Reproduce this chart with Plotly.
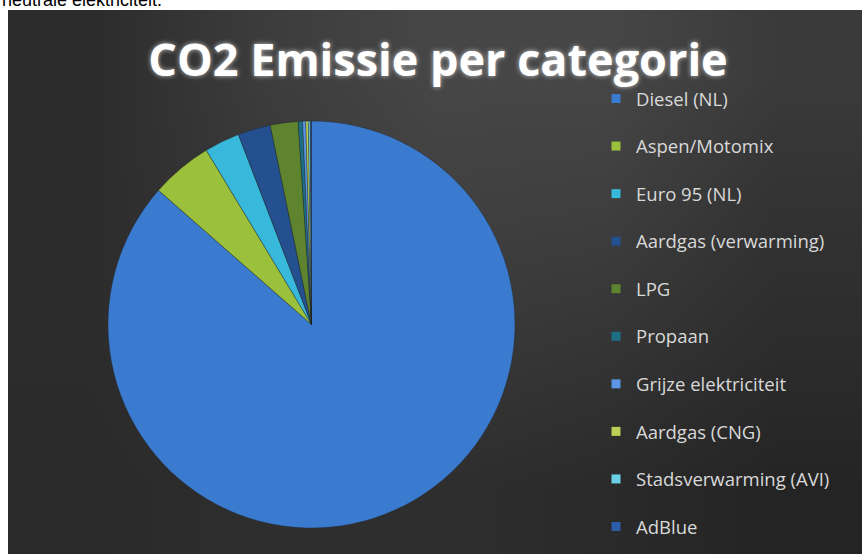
import plotly.graph_objects as go

W, H = 862, 554

categories = ["Diesel (NL)", "Aspen/Motomix", "Euro 95 (NL)", "Aardgas (verwarming)", "LPG",
              "Propaan", "Grijze elektriciteit", "Aardgas (CNG)", "Stadsverwarming (AVI)", "AdBlue"]
shares = [86.5, 4.9, 2.8, 2.6, 2.2, 0.35, 0.25, 0.2, 0.15, 0.1]
colors = ["#3b7bcf", "#9bc03c", "#38b8da", "#24508f", "#5f8430",
          "#1d6f86", "#5b96e6", "#b9cf55", "#6bd2e6", "#2c5cab"]

# background shading (grey levels) of the dark chart area
bg_shade = [
    [44, 60, 70, 70, 58],
    [44, 56, 64, 62, 50],
    [44, 52, 56, 52, 44],
    [42, 46, 46, 42, 36],
]

fig = go.Figure()

fig.add_trace(go.Heatmap(
    z=bg_shade, zmin=0, zmax=255, zsmooth="best",
    colorscale=[[0, "rgb(0,0,0)"], [1, "rgb(255,255,255)"]],
    showscale=False, hoverinfo="skip", xaxis="x", yaxis="y",
))

fig.add_trace(go.Pie(
    labels=categories, values=shares, sort=False, direction="clockwise", rotation=0,
    marker=dict(colors=colors, line=dict(color="rgba(30,30,30,0.6)", width=0.6)),
    textinfo="none", showlegend=False,
    domain=dict(x=[108 / W, 515 / W], y=[1 - 528 / H, 1 - 121 / H]),
))

for i, (name, c) in enumerate(zip(categories, colors)):
    fig.add_trace(go.Scatter(
        x=[None], y=[None], mode="markers", name=name, legendgroup=f"g{i}",
        marker=dict(symbol="square", size=9, color=c),
        xaxis="x", yaxis="y", hoverinfo="skip",
    ))

fig.update_layout(
    width=W, height=H,
    margin=dict(l=0, r=0, t=0, b=0),
    paper_bgcolor="white", plot_bgcolor="rgba(0,0,0,0)",
    xaxis=dict(domain=[8 / W, 1], visible=False, range=[-0.5, 4.5], fixedrange=True),
    yaxis=dict(domain=[0, 1 - 10 / H], visible=False, range=[3.5, -0.5], fixedrange=True),
    title=dict(text="<b>CO2 Emissie per categorie</b>", x=438 / W, xanchor="center",
               y=1 - 60 / H, yanchor="middle",
               font=dict(family="Open Sans", size=45, color="white",
                         shadow="0px 0px 5px rgba(255,255,255,0.7)")),
    legend=dict(x=596 / W, xanchor="left", y=1 - 80 / H, yanchor="top",
                font=dict(family="Open Sans", size=18.5, color="#d9d9d9"),
                bgcolor="rgba(0,0,0,0)", tracegroupgap=20.5, itemwidth=30,
                traceorder="grouped"),
    annotations=[dict(text="neutrale elektriciteit.", x=0, xref="paper", xanchor="left",
                      y=1, yref="paper", yanchor="bottom", yshift=-12, showarrow=False,
                      font=dict(family="Liberation Sans", size=18, color="black"))],
)

fig.write_html("out.html", config={"displayModeBar": False},
               post_script="document.body.style.margin='0';")
